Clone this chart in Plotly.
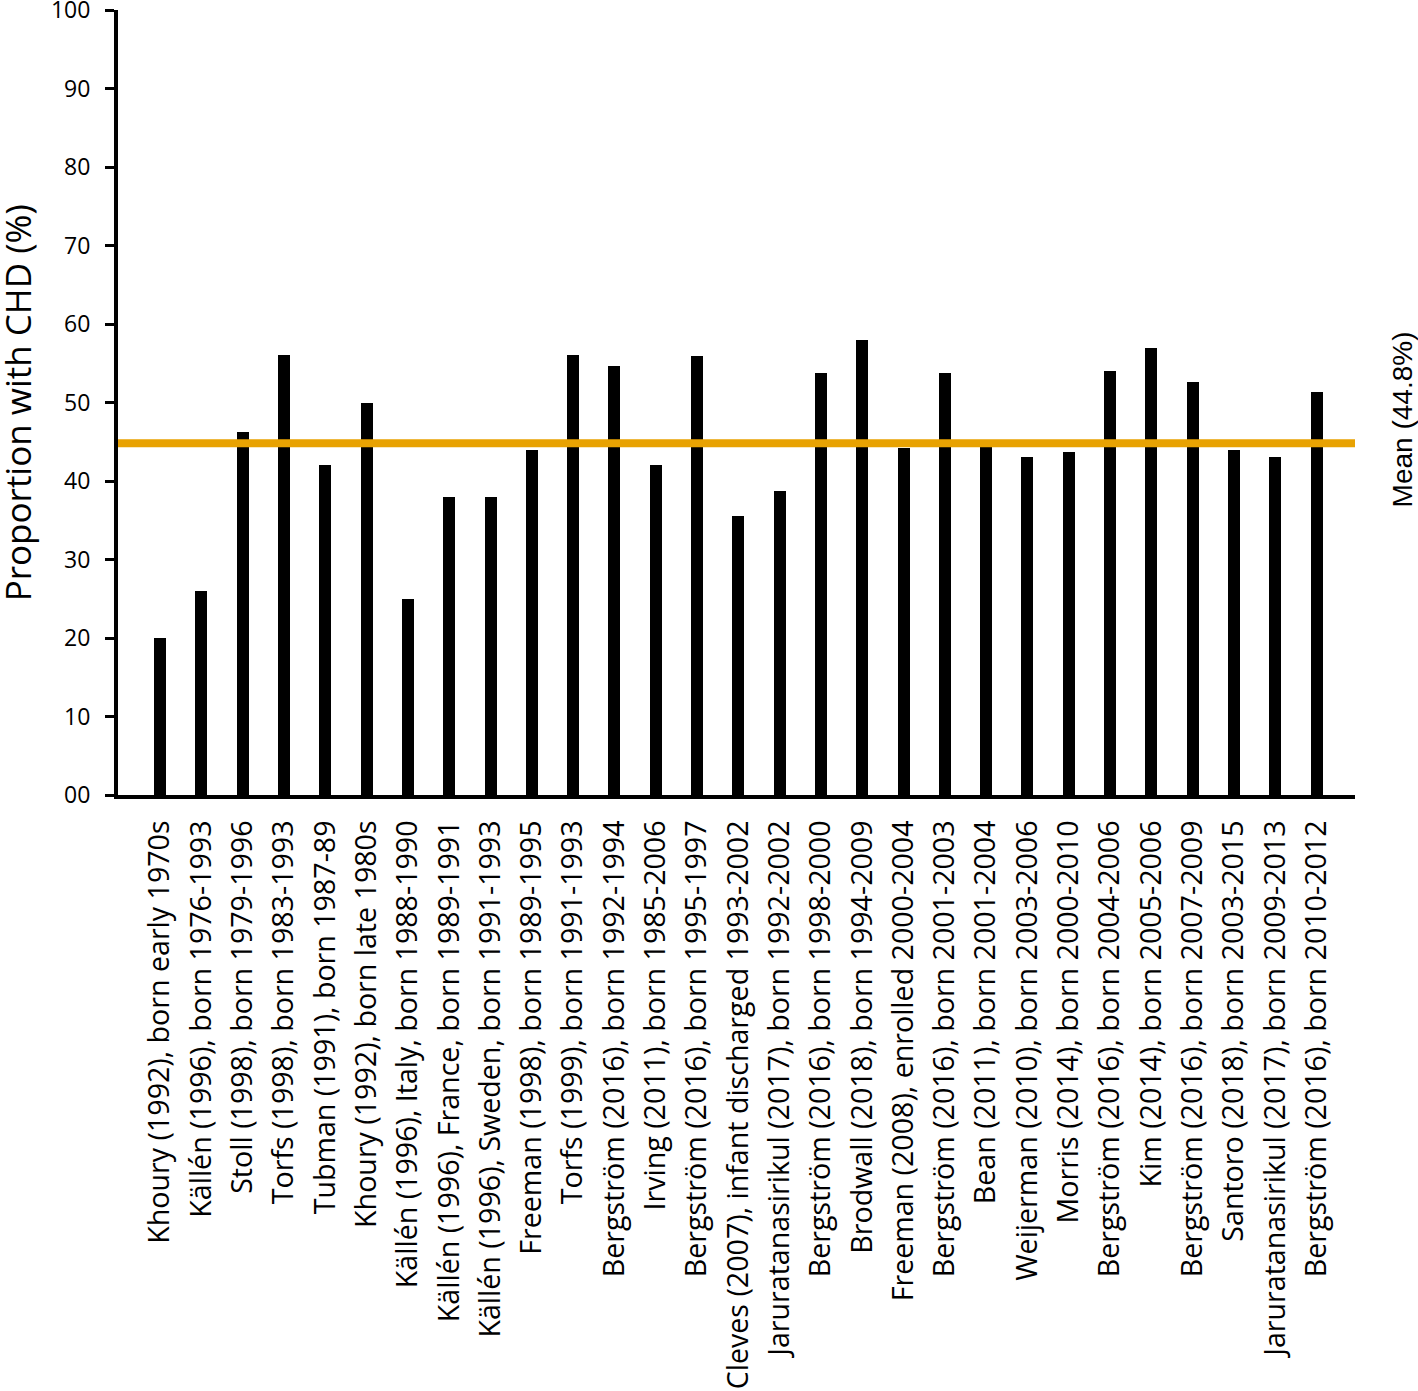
import plotly.graph_objects as go

# study labels (x categories), in plotting order
STUDIES = [
    'Khoury (1992), born early 1970s',
    'Källén (1996), born 1976-1993',
    'Stoll (1998), born 1979-1996',
    'Torfs (1998), born 1983-1993',
    'Tubman (1991), born 1987-89',
    'Khoury (1992), born late 1980s',
    'Källén (1996), Italy, born 1988-1990',
    'Källén (1996), France, born 1989-1991',
    'Källén (1996), Sweden, born 1991-1993',
    'Freeman (1998), born 1989-1995',
    'Torfs (1999), born 1991-1993',
    'Bergström (2016), born 1992-1994',
    'Irving (2011), born 1985-2006',
    'Bergström (2016), born 1995-1997',
    'Cleves (2007), infant discharged 1993-2002',
    'Jaruratanasirikul (2017), born 1992-2002',
    'Bergström (2016), born 1998-2000',
    'Brodwall (2018), born 1994-2009',
    'Freeman (2008), enrolled 2000-2004',
    'Bergström (2016), born 2001-2003',
    'Bean (2011), born 2001-2004',
    'Weijerman (2010), born 2003-2006',
    'Morris (2014), born 2000-2010',
    'Bergström (2016), born 2004-2006',
    'Kim (2014), born 2005-2006',
    'Bergström (2016), born 2007-2009',
    'Santoro (2018), born 2003-2015',
    'Jaruratanasirikul (2017), born 2009-2013',
    'Bergström (2016), born 2010-2012',
]

# proportion with CHD (%)
CHD_PCT = [20.0, 26.0, 46.2, 56.0, 42.1, 50.0, 25.0, 38.0, 38.0, 44.0,
           56.0, 54.7, 42.1, 55.9, 35.6, 38.7, 53.7, 58.0, 44.2, 53.7,
           44.6, 43.0, 43.7, 54.0, 57.0, 52.6, 43.9, 43.0, 51.3]

MEAN_PCT = 44.8

Y_TICKS = [0, 10, 20, 30, 40, 50, 60, 70, 80, 90, 100]
Y_TICKTEXT = ['00', '10', '20', '30', '40', '50', '60', '70', '80', '90', '100']

X_RANGE = [-1.02, 28.93]

xpos = list(range(len(STUDIES)))

fig = go.Figure()
fig.add_trace(go.Bar(x=xpos, y=CHD_PCT, width=0.29,
                     marker=dict(color='black', line=dict(width=0)),
                     showlegend=False))
# mean line across the whole plot
fig.add_trace(go.Scatter(x=X_RANGE, y=[MEAN_PCT, MEAN_PCT], mode='lines',
                         line=dict(color='#E8A202', width=8),
                         showlegend=False, hoverinfo='skip'))

fig.update_xaxes(range=X_RANGE, tickmode='array', tickvals=xpos, ticktext=STUDIES,
                 tickangle=-90, ticks='', showgrid=False, zeroline=False,
                 showline=True, linecolor='black', linewidth=4,
                 ticklabelstandoff=10, automargin=False, ticklabeloverflow='allow',
                 tickfont=dict(family='Open Sans', size=28.6, color='black'))
fig.update_yaxes(range=[0, 100], tickmode='array', tickvals=Y_TICKS, ticktext=Y_TICKTEXT,
                 ticks='outside', ticklen=9, tickwidth=3, tickcolor='black',
                 showgrid=False, zeroline=False,
                 showline=True, linecolor='black', linewidth=4,
                 ticklabelstandoff=10, automargin=False, ticklabeloverflow='allow',
                 tickfont=dict(family='Open Sans', size=23, color='black'))

fig.add_annotation(text='Proportion with CHD (%)', xref='paper', yref='y',
                   x=-0.081, y=50, xanchor='center', yanchor='middle',
                   textangle=-90, showarrow=False,
                   font=dict(family='Open Sans', size=35, color='black'))
fig.add_annotation(text='Mean (44.8%)', xref='paper', yref='y',
                   x=1.0385, y=47.8, xanchor='center', yanchor='middle',
                   textangle=-90, showarrow=False,
                   font=dict(family='Liberation Sans', size=28, color='black'))

fig.update_layout(width=1418, height=1391,
                  margin=dict(l=118, r=63, t=10, b=596),
                  plot_bgcolor='white', paper_bgcolor='white',
                  bargap=0)

# drop the default page margin so the figure sits at the window's corner
fig.write_html("out.html", config={'displayModeBar': False},
               post_script="document.body.style.margin='0';")
